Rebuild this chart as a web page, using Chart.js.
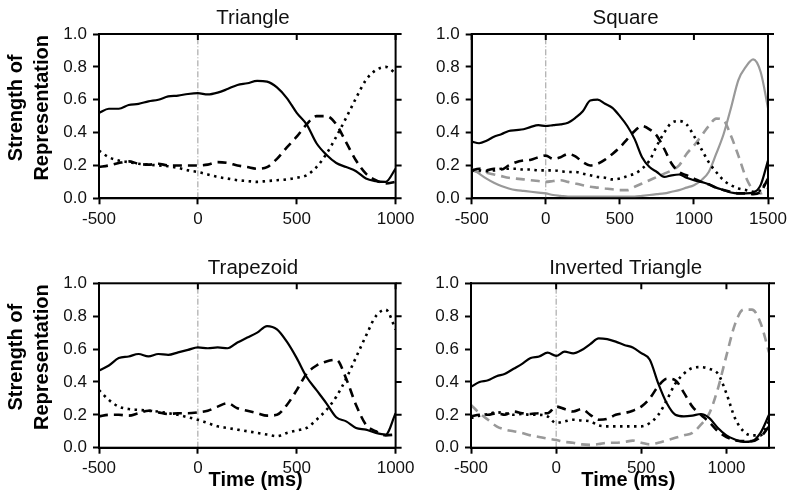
<!DOCTYPE html>
<html><head><meta charset="utf-8">
<script src="https://cdn.jsdelivr.net/npm/chart.js@4.4.1/dist/chart.umd.min.js"></script>
<style>
html,body{margin:0;padding:0;background:#fff;}
#wrap{position:relative;width:793px;height:503px;overflow:hidden;background:#fff;}
.pane{position:absolute;}
</style></head><body>
<div id="wrap">
  <div class="pane" style="left:0;top:0;width:440px;height:250px"><canvas id="c1"></canvas></div>
  <div class="pane" style="left:400px;top:0;width:393px;height:250px"><canvas id="c2"></canvas></div>
  <div class="pane" style="left:0;top:250px;width:440px;height:253px"><canvas id="c3"></canvas></div>
  <div class="pane" style="left:400px;top:250px;width:393px;height:253px"><canvas id="c4"></canvas></div>
</div>
<script>
// ---- time axes (ms) ----
const timeA = [-500,-450,-400,-350,-300,-250,-200,-150,-100,-50,0,50,100,150,200,250,300,350,400,450,500,550,600,650,700,750,800,850,900,950,1000];
const timeB = [-500,-450,-400,-350,-300,-250,-200,-150,-100,-50,0,50,100,150,200,250,300,350,400,450,500,550,600,650,700,750,800,850,900,950,1000,1050,1100,1150,1200,1250,1300,1350,1400,1450,1500];
const timeC = [-500,-450,-400,-350,-300,-250,-200,-150,-100,-50,0,50,100,150,200,250,300,350,400,450,500,550,600,650,700,750,800,850,900,950,1000,1050,1100,1150,1200,1250];

// ---- tick labels ----
const xTicksA = [-500,0,500,1000];
const xTicksB = [-500,0,500,1000,1500];
const xTicksC = [-500,0,500,1000];
const yTicks = [0,0.2,0.4,0.6,0.8,1.0];

// ---- titles ----
const titles = ['  Triangle','  Square','  Trapezoid','  Inverted Triangle'];
const yTitle = ['   Strength of','   Representation'];
const xTitle = '   Time (ms)';

// ---- Triangle ----
const triSolid  = [0.52,0.545,0.545,0.568,0.575,0.59,0.60,0.62,0.625,0.635,0.64,0.632,0.643,0.665,0.69,0.70,0.715,0.71,0.675,0.61,0.52,0.45,0.335,0.265,0.215,0.19,0.165,0.12,0.105,0.1,0.18];
const triDashed = [0.19,0.2,0.215,0.225,0.21,0.205,0.21,0.2,0.2,0.2,0.2,0.205,0.22,0.215,0.2,0.19,0.18,0.19,0.24,0.31,0.375,0.45,0.5,0.5,0.45,0.34,0.23,0.15,0.11,0.09,0.1];
const triDotted = [0.29,0.25,0.23,0.22,0.21,0.205,0.2,0.195,0.185,0.17,0.16,0.145,0.13,0.12,0.11,0.105,0.1,0.105,0.11,0.115,0.125,0.14,0.19,0.27,0.375,0.49,0.61,0.72,0.78,0.8,0.76];

// ---- Square ----
const sqSolid  = [0.345,0.335,0.35,0.375,0.39,0.41,0.415,0.42,0.435,0.445,0.44,0.445,0.45,0.46,0.49,0.53,0.595,0.6,0.575,0.55,0.5,0.44,0.36,0.25,0.19,0.16,0.13,0.14,0.145,0.125,0.11,0.1,0.085,0.065,0.05,0.035,0.03,0.03,0.035,0.08,0.23];
const sqDashed = [0.17,0.18,0.17,0.18,0.175,0.2,0.22,0.23,0.235,0.25,0.26,0.24,0.25,0.27,0.255,0.22,0.2,0.21,0.235,0.27,0.31,0.36,0.41,0.44,0.42,0.38,0.3,0.21,0.16,0.14,0.12,0.1,0.085,0.065,0.05,0.04,0.03,0.03,0.025,0.04,0.12];
const sqDotted = [0.17,0.17,0.165,0.17,0.18,0.18,0.18,0.175,0.175,0.17,0.17,0.17,0.165,0.16,0.16,0.15,0.14,0.13,0.125,0.115,0.12,0.135,0.15,0.18,0.23,0.32,0.4,0.46,0.47,0.45,0.38,0.3,0.22,0.16,0.11,0.08,0.06,0.05,0.04,0.05,0.12];
const sqGrayDashed = [0.17,0.16,0.155,0.145,0.135,0.125,0.12,0.115,0.11,0.105,0.1,0.105,0.11,0.1,0.09,0.08,0.07,0.065,0.06,0.055,0.05,0.05,0.07,0.09,0.11,0.13,0.15,0.17,0.2,0.27,0.32,0.38,0.44,0.485,0.475,0.38,0.26,0.13,0.05,0.03,0.06];
const sqGraySolid  = [0.18,0.15,0.12,0.095,0.075,0.06,0.05,0.045,0.04,0.035,0.03,0.02,0.015,0.01,0.01,0.01,0.01,0.01,0.01,0.01,0.01,0.01,0.01,0.015,0.02,0.025,0.03,0.04,0.05,0.065,0.08,0.11,0.16,0.27,0.39,0.55,0.72,0.8,0.845,0.77,0.55];

// ---- Trapezoid ----
const trapSolid  = [0.47,0.5,0.545,0.555,0.57,0.555,0.57,0.565,0.58,0.595,0.61,0.605,0.61,0.605,0.64,0.67,0.7,0.74,0.72,0.645,0.545,0.43,0.35,0.27,0.185,0.16,0.12,0.11,0.09,0.08,0.21];
const trapDashed = [0.19,0.2,0.2,0.195,0.21,0.225,0.215,0.205,0.21,0.21,0.215,0.225,0.25,0.27,0.24,0.225,0.21,0.195,0.2,0.26,0.35,0.45,0.5,0.525,0.535,0.42,0.26,0.14,0.1,0.075,0.08];
const trapDotted = [0.35,0.29,0.25,0.235,0.23,0.225,0.22,0.21,0.2,0.185,0.17,0.15,0.13,0.12,0.11,0.1,0.09,0.08,0.07,0.09,0.105,0.12,0.17,0.23,0.31,0.42,0.55,0.68,0.8,0.84,0.72];

// ---- Inverted Triangle ----
const invSolid  = [0.37,0.4,0.41,0.435,0.45,0.48,0.51,0.545,0.555,0.578,0.558,0.584,0.574,0.594,0.63,0.665,0.66,0.645,0.625,0.61,0.575,0.535,0.39,0.27,0.2,0.19,0.195,0.205,0.18,0.12,0.075,0.05,0.035,0.04,0.09,0.2];
const invDashed = [0.19,0.2,0.2,0.21,0.2,0.22,0.21,0.205,0.21,0.21,0.25,0.235,0.22,0.235,0.2,0.17,0.175,0.2,0.21,0.225,0.25,0.3,0.375,0.42,0.41,0.335,0.25,0.2,0.155,0.1,0.065,0.045,0.04,0.04,0.065,0.13];
const invDotted = [0.18,0.195,0.205,0.215,0.21,0.2,0.205,0.2,0.2,0.19,0.15,0.16,0.17,0.165,0.16,0.135,0.13,0.13,0.13,0.13,0.13,0.15,0.2,0.29,0.39,0.45,0.485,0.49,0.48,0.45,0.33,0.18,0.1,0.075,0.075,0.16];
const invGrayDashed = [0.26,0.21,0.17,0.13,0.11,0.1,0.09,0.075,0.065,0.055,0.047,0.035,0.03,0.02,0.017,0.022,0.03,0.03,0.035,0.043,0.03,0.02,0.03,0.045,0.06,0.075,0.09,0.14,0.21,0.36,0.56,0.75,0.84,0.84,0.76,0.58];

// ---- styles ----
const STY = {
  solid:      {borderColor:'#000', borderWidth:2.2, borderDash:[]},
  dashed:     {borderColor:'#000', borderWidth:2.6, borderDash:[9,6]},
  dotted:     {borderColor:'#000', borderWidth:2.6, borderDash:[2.5,4.5]},
  grayDashed: {borderColor:'#999', borderWidth:2.6, borderDash:[9,6]},
  graySolid:  {borderColor:'#999', borderWidth:2.2, borderDash:[]}
};

const FONT = "'Liberation Sans', Arial, Helvetica, sans-serif";

const framePlugin = {
  id: 'frame',
  afterDatasetsDraw(chart) {
    const {ctx, chartArea: a, scales} = chart;
    ctx.save();
    ctx.strokeStyle = '#000';
    ctx.lineWidth = 2;
    ctx.strokeRect(a.left, a.top, a.right - a.left, a.bottom - a.top);
    ctx.beginPath();
    scales.y.ticks.forEach(t => {
      const y = scales.y.getPixelForValue(t.value);
      ctx.moveTo(a.right, y); ctx.lineTo(a.right + 6, y);
    });
    scales.x.ticks.forEach(t => {
      const x = scales.x.getPixelForValue(t.value);
      ctx.moveTo(x, a.top); ctx.lineTo(x, a.top + 6);
    });
    ctx.stroke();
    ctx.restore();
  }
};

function makePanel(id, cfg) {
  const datasets = cfg.series.map(s => Object.assign({
    data: cfg.time.map((t, i) => ({x: t, y: s.values[i]})),
    pointRadius: 0, fill: false, cubicInterpolationMode: 'monotone'
  }, STY[s.style]));
  datasets.push({
    data: [{x: 0, y: 0}, {x: 0, y: 1}],
    borderColor: '#9a9a9a', borderWidth: 1, borderDash: [6, 2, 1, 2], pointRadius: 0, fill: false
  });
  new Chart(document.getElementById(id), {
    type: 'line',
    data: {datasets},
    plugins: [framePlugin],
    options: {
      responsive: true, maintainAspectRatio: false, animation: false, devicePixelRatio: 1,
      layout: {padding: {left: 0, top: 0, right: cfg.padRight, bottom: 0}},
      plugins: {legend: {display: false}, tooltip: {enabled: false}, title: {display: false}},
      scales: {
        xTop: {
          type: 'linear', position: 'top', min: -500, max: cfg.xMax,
          afterFit: s => { s.height = cfg.topHeight; },
          ticks: {display: false},
          grid: {display: false, drawTicks: false},
          border: {display: false},
          title: {display: true, text: cfg.title, color: '#111',
            font: {family: FONT, size: 20.5, weight: 'normal'}, padding: {top: 6, bottom: 0}}
        },
        x: {
          type: 'linear', position: 'bottom', min: -500, max: cfg.xMax,
          afterBuildTicks: s => { s.ticks = cfg.xTicks.map(v => ({value: v})); },
          afterFit: s => { s.height = cfg.xHeight; },
          ticks: {color: '#111', font: {family: FONT, size: 17}, padding: 4.5, maxRotation: 0, autoSkip: false,
            callback: v => String(v)},
          grid: {drawOnChartArea: false, drawTicks: true, tickLength: 6, tickWidth: 2, tickColor: '#000'},
          border: {display: true, color: '#000', width: 2},
          title: cfg.showX ? {display: true, text: xTitle, color: '#000',
            font: {family: FONT, size: 20, weight: 'bold'}, padding: {top: 0, bottom: 10.7}} : {display: false}
        },
        y: {
          min: 0, max: 1,
          afterBuildTicks: s => { s.ticks = yTicks.map(v => ({value: v})); },
          afterFit: s => { s.width = cfg.yWidth; },
          ticks: {color: '#111', font: {family: FONT, size: 17}, padding: 6, callback: v => Number(v).toFixed(1)},
          grid: {drawOnChartArea: false, drawTicks: true, tickLength: 6, tickWidth: 2, tickColor: '#000'},
          border: {display: true, color: '#000', width: 2},
          title: cfg.showY ? {display: true, text: yTitle, color: '#000',
            font: {family: FONT, size: 20, weight: 'bold', lineHeight: 1.28}, padding: {top: 3.7, bottom: 0}} : {display: false}
        }
      }
    }
  });
}

makePanel('c1', {title: titles[0], time: timeA, xMax: 1000, xTicks: xTicksA, padRight: 44.4, yWidth: 99, xHeight: 51.7, topHeight: 34, showY: true, showX: false,
  series: [{values: triSolid, style: 'solid'}, {values: triDashed, style: 'dashed'}, {values: triDotted, style: 'dotted'}]});
makePanel('c2', {title: titles[1], time: timeB, xMax: 1500, xTicks: xTicksB, padRight: 25, yWidth: 71.7, xHeight: 51.7, topHeight: 34, showY: false, showX: false,
  series: [{values: sqSolid, style: 'solid'}, {values: sqDashed, style: 'dashed'}, {values: sqDotted, style: 'dotted'}, {values: sqGrayDashed, style: 'grayDashed'}, {values: sqGraySolid, style: 'graySolid'}]});
makePanel('c3', {title: titles[2], time: timeA, xMax: 1000, xTicks: xTicksA, padRight: 44.4, yWidth: 99, xHeight: 55.3, topHeight: 33.3, showY: true, showX: true,
  series: [{values: trapSolid, style: 'solid'}, {values: trapDashed, style: 'dashed'}, {values: trapDotted, style: 'dotted'}]});
makePanel('c4', {title: titles[3], time: timeC, xMax: 1250, xTicks: xTicksC, padRight: 24, yWidth: 71, xHeight: 55.3, topHeight: 33.3, showY: false, showX: true,
  series: [{values: invSolid, style: 'solid'}, {values: invDashed, style: 'dashed'}, {values: invDotted, style: 'dotted'}, {values: invGrayDashed, style: 'grayDashed'}]});
</script>
</body></html>
